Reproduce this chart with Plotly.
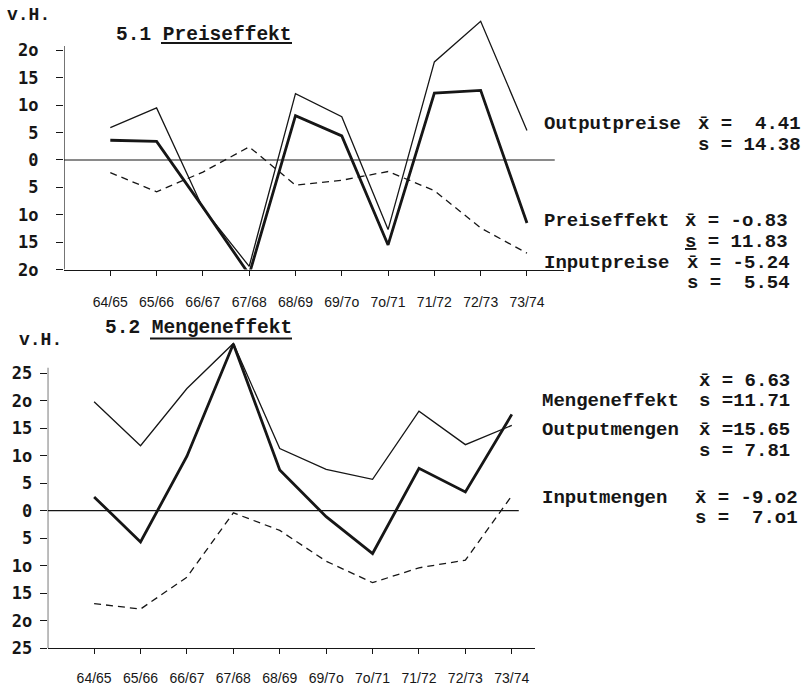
import plotly.graph_objects as go

# ---------------- data ----------------
years = ["64/65", "65/66", "66/67", "67/68", "68/69", "69/7o", "7o/71", "71/72", "72/73", "73/74"]

outputpreise = [5.9, 9.5, -8.8, -19.4, 12.1, 7.9, -12.7, 17.9, 25.3, 5.4]
preiseffekt = [3.6, 3.4, -8.6, -20.9, 8.1, 4.4, -15.5, 12.2, 12.7, -11.5]
inputpreise = [-2.3, -5.8, -2.2, 2.4, -4.6, -3.7, -2.1, -5.6, -12.4, -17.0]

outputmengen = [19.8, 11.8, 22.2, 30.4, 11.3, 7.5, 5.7, 18.1, 12.0, 15.5]
mengeneffekt = [2.5, -5.7, 9.9, 30.3, 7.4, -1.1, -7.8, 7.7, 3.4, 17.5]
inputmengen = [-16.9, -17.9, -12.1, -0.4, -3.6, -9.2, -13.1, -10.4, -9.0, 2.7]

ticks1 = [20, 15, 10, 5, 0, -5, -10, -15, -20]
ticktext1 = ["2o", "15", "1o", "5", "0", "5", "1o", "15", "2o"]
ticks2 = [25, 20, 15, 10, 5, 0, -5, -10, -15, -20, -25]
ticktext2 = ["25", "2o", "15", "1o", "5", "0", "5", "1o", "15", "2o", "25"]

stats1 = [
    ("Outputpreise", "x\u0304 =\u00a0\u00a04.41", "s = 14.38"),
    ("Preiseffekt", "x\u0304 = -o.83", "<u>s</u> = 11.83"),
    ("Inputpreise", "x\u0304 = -5.24", "s =\u00a0\u00a05.54"),
]
stats2 = [
    ("Mengeneffekt", "x\u0304 = 6.63", "s =11.71"),
    ("Outputmengen", "x\u0304 =15.65", "s = 7.81"),
    ("Inputmengen", "x\u0304 = -9.o2", "s =\u00a0\u00a07.o1"),
]

# ---------------- layout helpers ----------------
W, H = 807, 700
def px(x):
    return x / W
def py(y):
    return 1 - y / H

INK = "#161616"
MONO = "Liberation Mono"
xs = list(range(len(years)))

fig = go.Figure()

def add_line(vals, xa, ya, width, dash):
    fig.add_trace(go.Scatter(x=xs, y=vals, xaxis=xa, yaxis=ya, mode="lines",
                             line=dict(color=INK, width=width, dash=dash),
                             showlegend=False, hoverinfo="skip"))

add_line(outputpreise, "x", "y", 1.3, "solid")
add_line(preiseffekt, "x", "y", 2.8, "solid")
add_line(inputpreise, "x", "y", 1.3, "7px,5px")
add_line(outputmengen, "x2", "y2", 1.3, "solid")
add_line(mengeneffekt, "x2", "y2", 2.8, "solid")
add_line(inputmengen, "x2", "y2", 1.3, "7px,5px")

xtickfont = dict(family="Liberation Sans", size=14, color=INK)
ytickfont = dict(family="DejaVu Sans Mono", size=17, color=INK, weight="bold")

fig.update_layout(
    width=W, height=H, margin=dict(l=0, r=0, t=0, b=0),
    paper_bgcolor="white", plot_bgcolor="white",
    xaxis=dict(domain=[px(64), px(564)], range=[-1, 9.8], anchor="y",
               tickvals=xs, ticktext=years, ticks="outside", ticklen=5,
               tickcolor=INK, showline=True, linecolor=INK, linewidth=1.2,
               showgrid=False, zeroline=False, tickfont=xtickfont,
               ticklabelstandoff=15, fixedrange=True),
    yaxis=dict(domain=[py(273.5), py(12.2)], range=[-20, 27], anchor="x",
               tickvals=ticks1, ticktext=ticktext1, ticks="outside", ticklen=7,
               tickcolor=INK, showline=False, showgrid=False, zeroline=False,
               tickfont=ytickfont, ticklabelstandoff=14, fixedrange=True),
    xaxis2=dict(domain=[px(47.7), px(535)], range=[-1, 9.5], anchor="y2",
                tickvals=xs, ticktext=years, ticks="outside", ticklen=5,
                tickcolor=INK, showline=True, linecolor=INK, linewidth=1.2,
                showgrid=False, zeroline=False, tickfont=xtickfont,
                ticklabelstandoff=12, fixedrange=True),
    yaxis2=dict(domain=[py(657.5), py(345.1)], range=[-25, 31], anchor="x2",
                tickvals=ticks2, ticktext=ticktext2, ticks="outside", ticklen=7,
                tickcolor=INK, showline=False, showgrid=False, zeroline=False,
                tickfont=ytickfont, ticklabelstandoff=4, fixedrange=True),
)

shapes = [
    # vertical axes
    dict(type="line", xref="x", yref="y", x0=-1, x1=-1, y0=-20, y1=20.8,
         line=dict(color=INK, width=1.2)),
    dict(type="line", xref="x2", yref="y2", x0=-1, x1=-1, y0=-25, y1=26,
         line=dict(color=INK, width=1.2)),
    # zero lines
    dict(type="line", xref="x", yref="y", x0=-1, x1=9.6, y0=0, y1=0,
         line=dict(color=INK, width=1.1)),
    dict(type="line", xref="x2", yref="y2", x0=-1, x1=9.15, y0=0, y1=0,
         line=dict(color=INK, width=1.1)),
    # title underlines
    dict(type="line", xref="paper", yref="paper", x0=px(161), x1=px(292),
         y0=py(43.5), y1=py(43.5), line=dict(color=INK, width=2)),
    dict(type="line", xref="paper", yref="paper", x0=px(150), x1=px(292),
         y0=py(343.5), y1=py(343.5), line=dict(color=INK, width=2)),
]
fig.update_layout(shapes=shapes)

tfont = dict(family=MONO, size=19, color=INK, weight="bold")
anns = []
def ann(text, x, y, xanchor="left", font=tfont):
    anns.append(dict(text=text, x=px(x), y=py(y), xref="paper", yref="paper",
                     xanchor=xanchor, yanchor="middle", showarrow=False, font=font))

vh_font = dict(family=MONO, size=18, color=INK, weight="bold")
ann("v.H.", 5, 15, font=vh_font)
ann("5.1 Preiseffekt", 114, 35, font=dict(family=MONO, size=19.5, color=INK, weight="bold"))
ann("v.H.", 17, 345, font=vh_font)
ann("5.2 Mengeneffekt", 103, 333, font=dict(family=MONO, size=19.5, color=INK, weight="bold"))

# panel 1 statistics
rows1 = [(126, 146.7, 803), (224, 245.5, 790), (266.5, 287.5, 791.7)]
for (lab, xs_, ss), (y1, y2, xr) in zip(stats1, rows1):
    ann(lab, 541.7, y1)
    ann(xs_, xr, y1, xanchor="right")
    ann(ss, xr, y2, xanchor="right")

# panel 2 statistics
ann(stats2[0][1], 791.7, 386.7, xanchor="right")
ann(stats2[0][0], 540, 407.3)
ann(stats2[0][2], 791.7, 407.3, xanchor="right")
ann(stats2[1][0], 540, 436)
ann(stats2[1][1], 791.7, 436, xanchor="right")
ann(stats2[1][2], 791.7, 457.3, xanchor="right")
ann(stats2[2][0], 540, 505)
ann(stats2[2][1], 800, 505, xanchor="right")
ann(stats2[2][2], 800, 526, xanchor="right")

fig.update_layout(annotations=anns)

fig.write_html("out.html", config={"displayModeBar": False},
               post_script="document.body.style.margin='0';document.body.style.overflow='hidden';")
